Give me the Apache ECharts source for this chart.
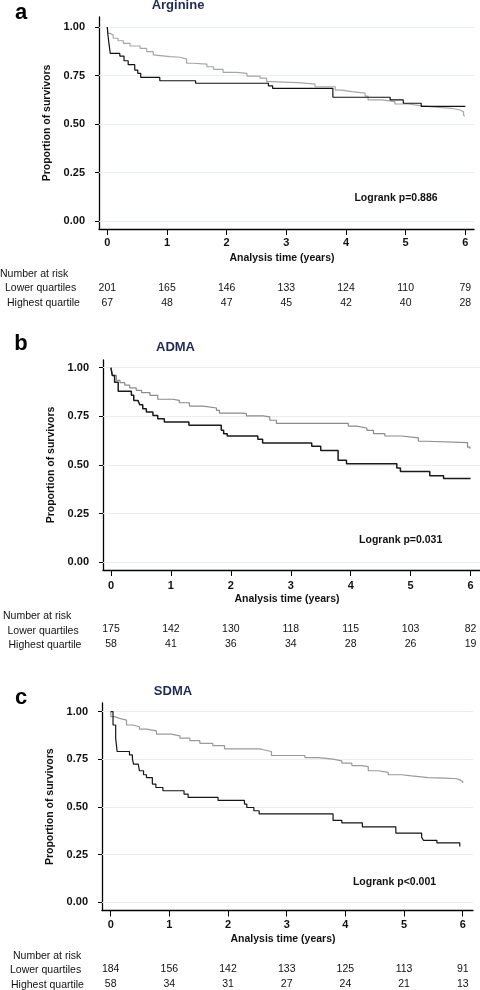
<!DOCTYPE html>
<html><head><meta charset="utf-8">
<script src="https://cdn.jsdelivr.net/npm/echarts@6/dist/echarts.min.js"></script>
<style>html,body{margin:0;padding:0;background:#fff}#c{width:480px;height:990px}</style>
</head><body><div id="c"></div>
<script>
// ---------- data ----------
const xTicks = [0, 1, 2, 3, 4, 5, 6];
const yTicks = [0, 0.25, 0.5, 0.75, 1];

const arginineLower = [[0,1],[0.01,0.967],[0.05,0.959],[0.1,0.942],[0.18,0.929],[0.27,0.916],[0.38,0.902],[0.55,0.89],[0.66,0.873],[0.77,0.856],[0.8,0.847],[1.05,0.844],[1.22,0.834],[1.33,0.813],[1.44,0.809],[1.67,0.795],[1.78,0.782],[1.94,0.766],[2.17,0.761],[2.34,0.747],[2.56,0.736],[2.67,0.718],[2.73,0.713],[3.2,0.706],[3.48,0.692],[3.82,0.675],[3.93,0.667],[4.1,0.659],[4.32,0.644],[4.37,0.624],[4.6,0.615],[4.82,0.603],[5.04,0.593],[5.27,0.586],[5.55,0.581],[5.77,0.572],[5.91,0.563],[5.97,0.546],[5.99,0.54]];
const arginineHighest = [[0,1],[0.01,0.96],[0.03,0.91],[0.05,0.864],[0.21,0.85],[0.28,0.826],[0.35,0.806],[0.46,0.778],[0.51,0.761],[0.56,0.74],[0.88,0.723],[1.48,0.71],[2.7,0.697],[2.77,0.684],[3.78,0.638],[4.74,0.624],[4.96,0.607],[5.26,0.591],[6.0,0.591]];

const admaLower = [[0,1],[0.005,0.987],[0.03,0.961],[0.09,0.935],[0.15,0.923],[0.23,0.91],[0.31,0.896],[0.42,0.884],[0.51,0.872],[0.65,0.858],[0.78,0.838],[1.03,0.832],[1.14,0.82],[1.31,0.803],[1.54,0.793],[1.76,0.781],[1.81,0.767],[2.2,0.764],[2.26,0.752],[2.54,0.747],[2.65,0.73],[2.76,0.714],[3.96,0.7],[4.1,0.69],[4.27,0.678],[4.38,0.661],[4.57,0.649],[4.85,0.639],[5.13,0.622],[5.27,0.615],[5.95,0.592],[5.99,0.584]];
const admaHighest = [[0,1],[0.02,0.96],[0.06,0.925],[0.12,0.879],[0.34,0.858],[0.38,0.832],[0.45,0.824],[0.48,0.81],[0.53,0.789],[0.59,0.772],[0.7,0.755],[0.78,0.738],[0.89,0.721],[1.3,0.704],[1.84,0.678],[1.88,0.661],[1.94,0.649],[2.45,0.632],[2.53,0.613],[3.35,0.596],[3.5,0.575],[3.79,0.524],[3.93,0.507],[4.77,0.485],[4.83,0.466],[5.32,0.445],[5.55,0.43],[6.0,0.43]];

const sdmaLower = [[0,1],[0.005,0.974],[0.07,0.965],[0.15,0.956],[0.27,0.93],[0.38,0.921],[0.49,0.908],[0.61,0.899],[0.78,0.882],[1.03,0.873],[1.18,0.861],[1.35,0.848],[1.52,0.834],[1.74,0.822],[1.94,0.805],[2.54,0.8],[2.6,0.791],[2.74,0.77],[3.31,0.759],[3.54,0.751],[3.79,0.742],[3.94,0.73],[4.11,0.717],[4.28,0.712],[4.39,0.69],[4.56,0.681],[4.73,0.669],[4.96,0.663],[5.13,0.654],[5.41,0.651],[5.7,0.648],[5.9,0.642],[5.95,0.634],[6.0,0.625]];
const sdmaHighest = [[0,1],[0.04,0.93],[0.085,0.861],[0.11,0.791],[0.32,0.773],[0.37,0.752],[0.39,0.725],[0.47,0.717],[0.49,0.69],[0.56,0.669],[0.61,0.654],[0.71,0.62],[0.77,0.602],[0.89,0.585],[1.25,0.567],[1.32,0.55],[1.83,0.534],[2.28,0.515],[2.32,0.497],[2.44,0.48],[2.53,0.464],[3.79,0.429],[3.94,0.416],[4.29,0.395],[4.86,0.363],[5.3,0.34],[5.33,0.325],[5.56,0.311],[5.95,0.293]];

const arginineRiskLower = [201, 165, 146, 133, 124, 110, 79];
const arginineRiskHighest = [67, 48, 47, 45, 42, 40, 28];
const admaRiskLower = [175, 142, 130, 118, 115, 103, 82];
const admaRiskHighest = [58, 41, 36, 34, 28, 26, 19];
const sdmaRiskLower = [184, 156, 142, 133, 125, 113, 91];
const sdmaRiskHighest = [58, 34, 31, 27, 24, 21, 13];

const panelLetters = ['a', 'b', 'c'];
const panelTitles = ['Arginine', 'ADMA', 'SDMA'];
const logrankTexts = ['Logrank p=0.886', 'Logrank p=0.031', 'Logrank p<0.001'];
const riskHeader = 'Number at risk';
const riskRowLabels = ['Lower quartiles', 'Highest quartile'];
const xAxisTitle = 'Analysis time (years)';
const yAxisTitle = 'Proportion of survivors';

// ---------- layout / style ----------
const FONT = '"Liberation Sans", Arial, Helvetica, sans-serif';
const panels = [
  { lower: arginineLower, highest: arginineHighest, riskL: arginineRiskLower, riskH: arginineRiskHighest,
    grid: {left: 99, top: 17, width: 375, height: 212}, x: [-0.139, 6.145], y: [-0.0412, 1.0515],
    grayColor: '#a6a6a6', blackColor: '#111', blackWidth: 1.2, letter: [21, 12.5], title: [178, 5], logrank: [396, 198],
    header: [0, 274], rowL: [5, 288], rowH: [7, 303], lblMargin: 14, yNameGap: 49 },
  { lower: admaLower, highest: admaHighest, riskL: admaRiskLower, riskH: admaRiskHighest,
    grid: {left: 103, top: 360, width: 377, height: 210}, x: [-0.1335, 6.158], y: [-0.0396, 1.0396],
    grayColor: '#8c8c8c', blackColor: '#1a1a1a', blackWidth: 1.5, letter: [21, 343.5], title: [175.5, 347], logrank: [400.7, 540],
    header: [3, 616], rowL: [7.5, 630.7], rowH: [8.5, 645.3], lblMargin: 15.5, yNameGap: 50 },
  { lower: sdmaLower, highest: sdmaHighest, riskL: sdmaRiskLower, riskH: sdmaRiskHighest,
    grid: {left: 102, top: 703, width: 371, height: 208}, x: [-0.148, 6.175], y: [-0.0435, 1.0455],
    grayColor: '#9a9a9a', blackColor: '#151515', blackWidth: 1.2, letter: [21, 697.5], title: [173, 691], logrank: [394.5, 881.7],
    header: [13, 955.7], rowL: [10, 970], rowH: [11, 985], lblMargin: 14.5, yNameGap: 50 }
];

const grids = [], xAxes = [], yAxes = [], series = [], graphics = [];
panels.forEach((p, i) => {
  grids.push(Object.assign({}, p.grid));
  const xBase = xAxes.length;
  xAxes.push({
    gridIndex: i, type: 'value', position: 'bottom', min: p.x[0], max: p.x[1],
    axisLine: {show: true, onZero: false, lineStyle: {color: '#000', width: 1.3}},
    axisTick: {show: true, customValues: xTicks, length: 6, lineStyle: {color: '#000', width: 1}},
    axisLabel: {customValues: xTicks, margin: p.lblMargin, verticalAlign: 'middle', fontSize: 11, fontWeight: 'bold', color: '#111', fontFamily: FONT},
    splitLine: {show: false},
    name: xAxisTitle, nameLocation: 'middle', nameGap: 29,
    nameTextStyle: {fontSize: 10.5, fontWeight: 'bold', color: '#111', fontFamily: FONT, verticalAlign: 'middle', padding: [0, 9, 0, 0]}
  });
  [[p.riskL, 59], [p.riskH, 74]].forEach(([arr, off]) => {
    xAxes.push({
      gridIndex: i, type: 'value', position: 'bottom', offset: off, min: p.x[0], max: p.x[1],
      axisLine: {show: false}, axisTick: {show: false}, splitLine: {show: false},
      axisLabel: {customValues: xTicks, margin: 0, verticalAlign: 'middle', fontSize: 10.5, color: '#111', fontFamily: FONT,
        formatter: v => String(arr[Math.round(v)])}
    });
  });
  yAxes.push({
    gridIndex: i, type: 'value', min: p.y[0], max: p.y[1],
    axisLine: {show: true, onZero: false, lineStyle: {color: '#000', width: 1.3}},
    axisTick: {show: true, customValues: yTicks, length: 4, lineStyle: {color: '#000', width: 1}},
    axisLabel: {customValues: yTicks, formatter: v => v.toFixed(2), margin: 14, fontSize: 11, fontWeight: 'bold', color: '#111', fontFamily: FONT},
    splitLine: {show: false},
    name: yAxisTitle, nameLocation: 'middle', nameRotate: 90, nameGap: p.yNameGap,
    nameTextStyle: {fontSize: 10.5, fontWeight: 'bold', color: '#111', fontFamily: FONT, verticalAlign: 'middle'}
  });
  series.push({
    type: 'line', xAxisIndex: xBase, yAxisIndex: i, data: p.lower, step: 'end',
    showSymbol: false, symbol: 'none', lineStyle: {color: p.grayColor, width: 1.2}, z: 3,
    markLine: {silent: true, symbol: 'none', label: {show: false}, animation: false, z: 1,
      lineStyle: {color: '#e9efef', width: 1, type: 'solid'}, emphasis: {disabled: true},
      data: yTicks.map(v => ({yAxis: v}))}
  });
  series.push({
    type: 'line', xAxisIndex: xBase, yAxisIndex: i, data: p.highest, step: 'end',
    showSymbol: false, symbol: 'none', lineStyle: {color: p.blackColor, width: p.blackWidth}, z: 4
  });
  graphics.push({type: 'text', x: p.letter[0], y: p.letter[1], style: {text: panelLetters[i], font: 'bold 22px ' + FONT, fill: '#000', align: 'center', verticalAlign: 'middle'}});
  graphics.push({type: 'text', x: p.title[0], y: p.title[1], style: {text: panelTitles[i], font: 'bold 13px ' + FONT, fill: '#1f2b52', align: 'center', verticalAlign: 'middle'}});
  graphics.push({type: 'text', x: p.logrank[0], y: p.logrank[1], style: {text: logrankTexts[i], font: 'bold 10.5px ' + FONT, fill: '#111', align: 'center', verticalAlign: 'middle'}});
  graphics.push({type: 'text', x: p.header[0], y: p.header[1], style: {text: riskHeader, font: '10.5px ' + FONT, fill: '#111', align: 'left', verticalAlign: 'middle'}});
  graphics.push({type: 'text', x: p.rowL[0], y: p.rowL[1], style: {text: riskRowLabels[0], font: '10.5px ' + FONT, fill: '#111', align: 'left', verticalAlign: 'middle'}});
  graphics.push({type: 'text', x: p.rowH[0], y: p.rowH[1], style: {text: riskRowLabels[1], font: '10.5px ' + FONT, fill: '#111', align: 'left', verticalAlign: 'middle'}});
});

const chart = echarts.init(document.getElementById('c'), null, {renderer: 'canvas'});
chart.setOption({
  animation: false,
  backgroundColor: '#fff',
  grid: grids, xAxis: xAxes, yAxis: yAxes, series: series, graphic: graphics
});
</script></body></html>
